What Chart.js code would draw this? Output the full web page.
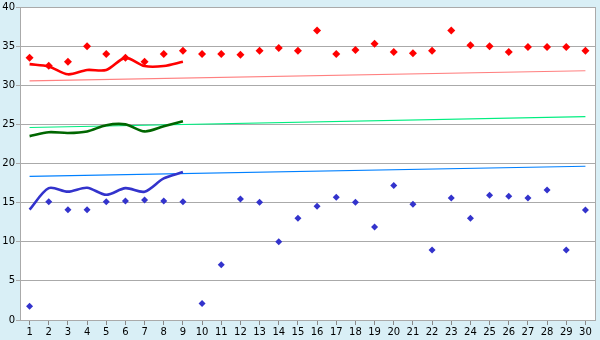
<!DOCTYPE html>
<html>
<head>
<meta charset="utf-8">
<script src="https://cdn.jsdelivr.net/npm/chart.js@4/dist/chart.umd.min.js"></script>
<style>
html,body{margin:0;padding:0;background:#d9eff6;}
#wrap{width:600px;height:340px;position:relative;}
</style>
</head>
<body>
<div id="wrap"><canvas id="c" width="600" height="340"></canvas></div>
<script>
const categories = ['1','2','3','4','5','6','7','8','9','10','11','12','13','14','15','16','17','18','19','20','21','22','23','24','25','26','27','28','29','30'];
const yTicks = [0, 5, 10, 15, 20, 25, 30, 35, 40];

const redPoints = [33.5, 32.5, 33.0, 35.0, 34.0, 33.5, 33.0, 34.0, 34.4, 34.0, 34.0, 33.9, 34.4, 34.75, 34.4, 37.0, 34.0, 34.5, 35.3, 34.25, 34.1, 34.4, 37.0, 35.1, 35.0, 34.25, 34.9, 34.9, 34.9, 34.4];
const bluePoints = [1.75, 15.1, 14.1, 14.1, 15.1, 15.2, 15.35, 15.2, 15.1, 2.1, 7.05, 15.45, 15.05, 10.0, 13.0, 14.55, 15.7, 15.05, 11.9, 17.2, 14.8, 8.95, 15.6, 13.0, 15.95, 15.8, 15.6, 16.6, 8.95, 14.05];

const redLine = [32.7, 32.4, 31.4, 31.95, 31.95, 33.5, 32.45, 32.45, 33.0];
const greenLine = [23.5, 24.0, 23.9, 24.1, 24.9, 25.0, 24.1, 24.75, 25.4];
const blueLine = [14.1, 16.85, 16.4, 16.9, 16.0, 16.85, 16.4, 18.1, 18.9];

const redTrendEnds = [30.55, 31.85];
const greenTrendEnds = [24.6, 26.0];
const blueTrendEnds = [18.35, 19.65];

function trend(ends) {
  return [{x: categories[0], y: ends[0]}, {x: categories[categories.length - 1], y: ends[1]}];
}

const bgPlugin = {
  id: 'bg',
  beforeDraw(chart) {
    const {ctx, chartArea: a} = chart;
    ctx.save();
    ctx.fillStyle = '#d9eff6';
    ctx.fillRect(0, 0, chart.width, chart.height);
    ctx.fillStyle = '#ffffff';
    ctx.fillRect(a.left, a.top, a.right - a.left, a.bottom - a.top);
    ctx.restore();
  },
  afterDatasetsDraw(chart) {
    const {ctx, chartArea: a} = chart;
    ctx.save();
    ctx.strokeStyle = '#aaaaaa';
    ctx.lineWidth = 1;
    ctx.strokeRect(Math.round(a.left) + 0.5, Math.round(a.top) + 0.5, Math.round(a.right - a.left) , Math.round(a.bottom - a.top));
    ctx.restore();
  }
};

const font = {family: 'DejaVu Sans', size: 10};

new Chart(document.getElementById('c'), {
  type: 'line',
  data: {
    labels: categories,
    datasets: [
      {data: redPoints, showLine: false, pointStyle: 'rectRot', pointRadius: 4, borderWidth: 0, borderColor: '#ff0000', backgroundColor: '#ff0000', order: 1},
      {data: bluePoints, showLine: false, pointStyle: 'rectRot', pointRadius: 3.5, borderWidth: 0, borderColor: '#3333cc', backgroundColor: '#3333cc', order: 1},
      {data: redLine, borderColor: '#ff0000', borderWidth: 2.6, pointRadius: 0, tension: 0.3, order: 2},
      {data: greenLine, borderColor: '#006600', borderWidth: 2.6, pointRadius: 0, tension: 0.3, order: 2},
      {data: blueLine, borderColor: '#3333cc', borderWidth: 2.6, pointRadius: 0, tension: 0.3, order: 2},
      {data: trend(redTrendEnds), borderColor: '#ff8080', borderWidth: 1.2, pointRadius: 0, order: 3},
      {data: trend(greenTrendEnds), borderColor: '#00ee80', borderWidth: 1.2, pointRadius: 0, order: 3},
      {data: trend(blueTrendEnds), borderColor: '#0080ff', borderWidth: 1.2, pointRadius: 0, order: 3}
    ]
  },
  options: {
    responsive: false,
    animation: false,
    layout: {padding: {top: 5, right: 5, left: 0, bottom: 0}},
    plugins: {legend: {display: false}, tooltip: {enabled: false}},
    scales: {
      x: {
        offset: true,
        grid: {display: true, drawOnChartArea: false, drawTicks: true, tickLength: 5, color: '#888888', offset: false},
        border: {display: true, color: '#aaaaaa'},
        ticks: {font: font, color: '#000000', padding: 1, maxRotation: 0, autoSkip: false},
        afterFit(s) { s.height = 20; }
      },
      y: {
        min: 0, max: 40,
        afterBuildTicks(s) { s.ticks = yTicks.map(v => ({value: v})); },
        grid: {color: '#aaaaaa', drawTicks: true, tickLength: 4},
        border: {display: true, color: '#aaaaaa'},
        ticks: {font: font, color: '#000000', padding: 1},
        afterFit(s) { s.width = 20; }
      }
    }
  },
  plugins: [bgPlugin]
});
</script>
</body>
</html>
